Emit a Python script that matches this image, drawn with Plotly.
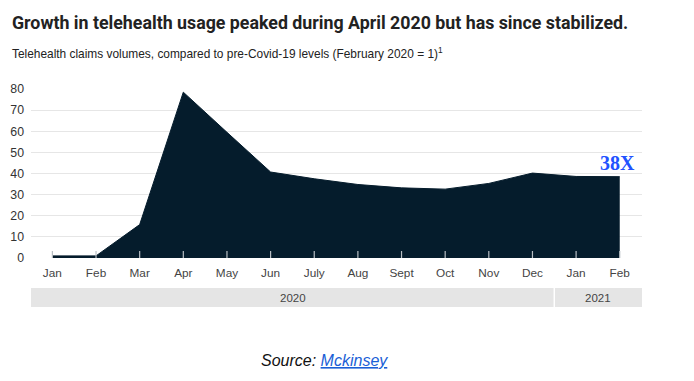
import plotly.graph_objects as go

months = ["Jan", "Feb", "Mar", "Apr", "May", "Jun", "July", "Aug", "Sept", "Oct", "Nov", "Dec", "Jan", "Feb"]
values = [1, 1, 15.8, 78.5, 59.5, 40.7, 37.5, 34.8, 33.2, 32.6, 35.3, 40.2, 38.6, 38.5]
years = ["2020", "2021"]
year_spans = [(-0.49, 11.5), (11.5, 13.51)]
yticks = [0, 10, 20, 30, 40, 50, 60, 70, 80]

x_idx = list(range(len(months)))

fig = go.Figure()
fig.add_trace(go.Scatter(
    x=x_idx, y=values, mode="lines", fill="tozeroy",
    line=dict(color="#051c2c", width=1), fillcolor="#051c2c",
    hoverinfo="skip", showlegend=False,
))

L, R, T, B = 31, 52, 89, 123
W, H = 694, 381
ph = H - T - B

def py(pix):
    return (H - B - pix) / ph

def px(pix):
    return (pix - L) / (W - L - R)

shapes = []
# tick marks rising from the baseline, drawn over the area
for i in x_idx:
    shapes.append(dict(type="line", xref="x", yref="paper", x0=i, x1=i, y0=0, y1=7 / ph,
                       line=dict(color="#b8bec3", width=1.2), layer="above"))
for (a, b) in year_spans:
    shapes.append(dict(type="rect", xref="x", yref="paper", x0=a, x1=b,
                       y0=py(307), y1=py(288), fillcolor="#e5e5e5",
                       line=dict(width=0), layer="above"))
shapes.append(dict(type="line", xref="x", yref="paper", x0=year_spans[0][1], x1=year_spans[0][1],
                   y0=py(307), y1=py(288), line=dict(color="white", width=1.5)))

annotations = []
for (a, b), yr in zip(year_spans, years):
    annotations.append(dict(x=(a + b) / 2, y=py(297.5), xref="x", yref="paper", text=yr,
                            showarrow=False, font=dict(family="Liberation Sans, Arial", size=11.5, color="#444"),
                            xanchor="center", yanchor="middle"))

annotations.append(dict(x=px(10), y=py(22), xref="paper", yref="paper",
                        text="<b>Growth in telehealth usage peaked during April 2020 but has since stabilized.</b>",
                        showarrow=False, xanchor="left", yanchor="middle",
                        font=dict(family="Roboto", size=17.8, color="#222")))
annotations.append(dict(x=px(10), y=py(53), xref="paper", yref="paper",
                        text="Telehealth claims volumes, compared to pre-Covid-19 levels (February 2020 = 1)<sup>1</sup>",
                        showarrow=False, xanchor="left", yanchor="middle",
                        font=dict(family="Liberation Sans, Arial", size=11.9, color="#222")))
annotations.append(dict(x=x_idx[-1], y=45.2, xref="x", yref="y", text="<b>38X</b>",
                        showarrow=False, xanchor="right", yanchor="middle", xshift=17,
                        font=dict(family="Liberation Serif, Times New Roman", size=20, color="#2251ff")))
annotations.append(dict(x=px(324), y=py(360), xref="paper", yref="paper",
                        text="<i>Source: <span style='color:#1a5fd6'><u>Mckinsey</u></span></i>",
                        showarrow=False, xanchor="center", yanchor="middle",
                        font=dict(family="Liberation Sans, Arial", size=16, color="#111")))

fig.update_layout(
    template="none",
    width=W, height=H,
    margin=dict(l=L, r=R, t=T, b=B, pad=0),
    paper_bgcolor="white", plot_bgcolor="white",
    shapes=shapes, annotations=annotations,
    xaxis=dict(range=[-0.49, 13.51], tickvals=x_idx, ticktext=months, automargin=False,
               ticks="", showgrid=False, zeroline=False, showline=False, ticklabelstandoff=6,
               tickfont=dict(family="Liberation Sans, Arial", size=11.8, color="#444"),
               fixedrange=True),
    yaxis=dict(range=[0, 80], tickvals=yticks, showgrid=True, gridcolor="#e6e6e6", gridwidth=1,
               zeroline=False, showline=False, ticks="", ticklabelstandoff=6, automargin=False,
               tickfont=dict(family="Liberation Sans, Arial", size=12.3, color="#333"),
               fixedrange=True),
)
fig.write_html("out.html", config={"displayModeBar": False},
               post_script="document.body.style.margin='0';document.body.style.padding='0';")
